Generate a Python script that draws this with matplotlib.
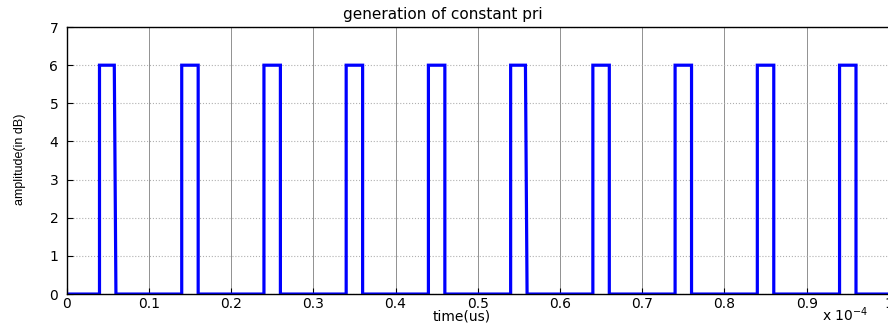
import matplotlib
matplotlib.use("Agg")
import matplotlib.pyplot as plt

# pulse train samples (time in units of 1e-4, amplitude in dB)
t = [0.0, 0.04, 0.04, 0.058, 0.060,
     0.14, 0.14, 0.16, 0.16,
     0.24, 0.24, 0.26, 0.26,
     0.34, 0.34, 0.36, 0.36,
     0.44, 0.44, 0.46, 0.46,
     0.54, 0.54, 0.558, 0.560,
     0.64, 0.64, 0.66, 0.66,
     0.74, 0.74, 0.76, 0.76,
     0.84, 0.84, 0.86, 0.86,
     0.94, 0.94, 0.96, 0.96, 1.0]
amp = [0, 0, 6, 6, 0,
       0, 6, 6, 0,
       0, 6, 6, 0,
       0, 6, 6, 0,
       0, 6, 6, 0,
       0, 6, 6, 0,
       0, 6, 6, 0,
       0, 6, 6, 0,
       0, 6, 6, 0,
       0, 6, 6, 0, 0]
xticks = [0, 0.1, 0.2, 0.3, 0.4, 0.5, 0.6, 0.7, 0.8, 0.9, 1]
xticklabels = ["0", "0.1", "0.2", "0.3", "0.4", "0.5", "0.6", "0.7", "0.8", "0.9", "1"]
yticks = [0, 1, 2, 3, 4, 5, 6, 7]

plt.rcParams['font.family'] = ['DejaVu Sans']

fig = plt.figure(figsize=(8.88, 3.26), dpi=100)
ax = fig.add_axes([0.075, 0.098, 0.926, 0.819])

ax.plot(t, amp, color='#0000ff', linewidth=2.3, solid_joinstyle='miter')

ax.set_xlim(0, 1)
ax.set_ylim(0, 7)
ax.set_xticks(xticks)
ax.set_xticklabels(xticklabels)
ax.set_yticks(yticks)
ax.tick_params(direction='in', length=4, labelsize=10, width=0.8)
ax.tick_params(axis='x', pad=2)
ax.tick_params(axis='y', pad=6)

ax.xaxis.grid(True, color='#808080', linestyle='-', linewidth=0.6)
ax.yaxis.grid(True, color='#b0b0b0', linestyle=':', linewidth=0.8)
ax.set_axisbelow(True)
for s in ax.spines.values():
    s.set_linewidth(1.0)

fig.text(0.499, 0.955, "generation of constant pri", ha='center', va='center', fontsize=11)
fig.text(0.520, 0.03, "time(us)", ha='center', va='center', fontsize=10)
fig.text(0.022, 0.51, "amplitude(in dB)", ha='center', va='center', fontsize=9,
         rotation=90, family='Liberation Sans', fontstretch='condensed')
fig.text(0.926, 0.035, r"x 10$^{-4}$", ha='left', va='center', fontsize=10)

fig.savefig("out.png", dpi=100)
